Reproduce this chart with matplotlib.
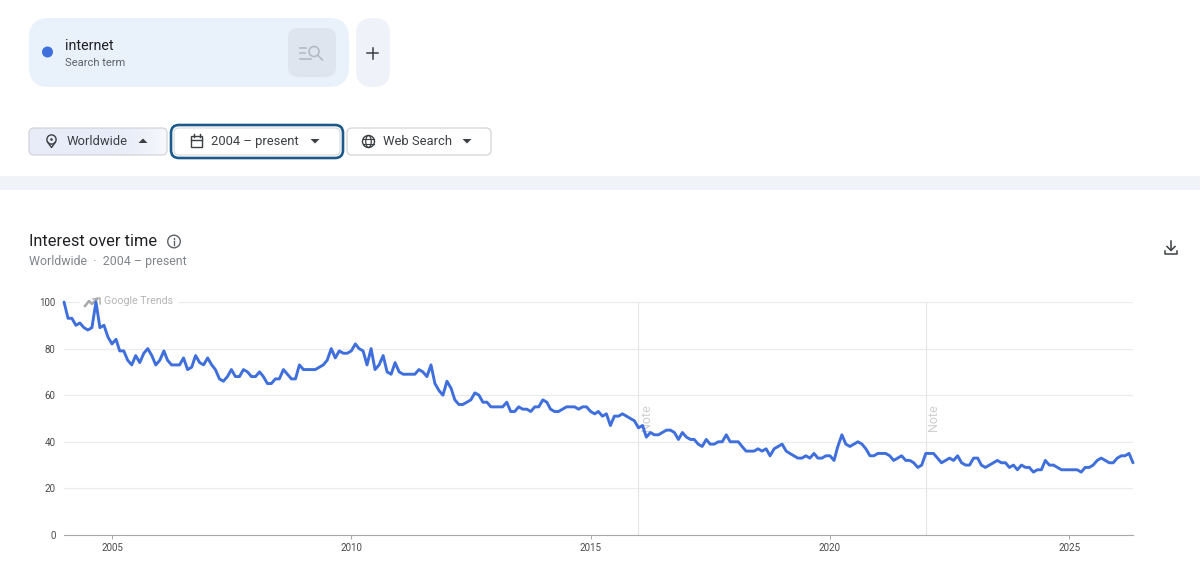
import matplotlib
matplotlib.use("Agg")
from matplotlib import pyplot as plt
from matplotlib.patches import FancyBboxPatch, Circle, Rectangle, Ellipse, Polygon
import matplotlib.dates as mdates
import numpy as np
import pandas as pd

plt.rcParams['font.family'] = ['Roboto', 'DejaVu Sans']

# monthly interest
v2004 = [100, 93, 93, 90, 91, 89, 88, 89, 100, 89, 90, 85]
v2005 = [82, 84, 79, 79, 75, 73, 77, 74, 78, 80, 77, 73]
v2006 = [75, 79, 75, 73, 73, 73, 76, 71, 72, 77, 74, 73]
v2007 = [76, 73, 71, 67, 66, 68, 71, 68, 68, 71, 70, 68]
v2008 = [68, 70, 68, 65, 65, 67, 67, 71, 69, 67, 67, 73]
v2009 = [71, 71, 71, 71, 72, 73, 75, 80, 76, 79, 78, 78]
v2010 = [79, 82, 80, 79, 73, 80, 71, 73, 77, 70, 69, 74]
v2011 = [70, 69, 69, 69, 69, 71, 70, 68, 73, 65, 62, 60]
v2012 = [66, 63, 58, 56, 56, 57, 58, 61, 60, 57, 57, 55]
v2013 = [55, 55, 55, 57, 53, 53, 55, 54, 54, 53, 55, 55]
v2014 = [58, 57, 54, 53, 53, 54, 55, 55, 55, 54, 55, 55]
v2015 = [53, 52, 53, 51, 52, 47, 51, 51, 52, 51, 50, 49]
v2016 = [46, 47, 42, 44, 43, 43, 44, 45, 45, 44, 41, 44]
v2017 = [42, 41, 41, 39, 38, 41, 39, 39, 40, 40, 43, 40]
v2018 = [40, 40, 38, 36, 36, 36, 37, 36, 37, 34, 37, 38]
v2019 = [39, 36, 35, 34, 33, 33, 34, 33, 35, 33, 33, 34]
v2020 = [34, 32, 38, 43, 39, 38, 39, 40, 39, 37, 34, 34]
v2021 = [35, 35, 35, 34, 32, 33, 34, 32, 32, 31, 29, 30]
v2022 = [35, 35, 35, 33, 31, 32, 33, 32, 34, 31, 30, 30]
v2023 = [33, 33, 30, 29, 30, 31, 32, 31, 31, 29, 30, 28]
v2024 = [30, 29, 29, 27, 28, 28, 32, 30, 30, 29, 28, 28]
v2025 = [28, 28, 28, 27, 29, 29, 30, 32, 33, 32, 31, 31]
v2026 = [33, 34, 34, 35, 31]

values = (v2004 + v2005 + v2006 + v2007 + v2008 + v2009 + v2010 + v2011 + v2012
          + v2013 + v2014 + v2015 + v2016 + v2017 + v2018 + v2019 + v2020
          + v2021 + v2022 + v2023 + v2024 + v2025 + v2026)
dates = pd.date_range('2004-01-01', periods=len(values), freq='MS')

y_ticks = [0, 20, 40, 60, 80, 100]
year_ticks = [2005, 2010, 2015, 2020, 2025]
note_dates = ['2016-01-01', '2022-01-01']

BLUE = '#3f6fdc'
W, H = 1200, 581
fig = plt.figure(figsize=(W / 100, H / 100), dpi=100, facecolor='white')

# page furniture, in pixel coordinates
ui = fig.add_axes([0, 0, 1, 1], zorder=-1)
ui.set_xlim(0, W)
ui.set_ylim(H, 0)
ui.axis('off')

# chart
ax = fig.add_axes([64 / W, 1 - 535 / H, (1133 - 64) / W, 233 / H])
ax.patch.set_visible(False)
ax.plot(dates, values, color=BLUE, lw=2.1, solid_joinstyle='round', solid_capstyle='round',
        clip_on=False, zorder=4)
ax.set_xlim(dates[0], dates[-1])
ax.set_ylim(0, 100)
ax.set_yticks(y_ticks)
ax.set_xticks([pd.Timestamp(f'{y}-01-01') for y in year_ticks])
ax.xaxis.set_major_formatter(mdates.DateFormatter('%Y'))
ax.grid(axis='y', color='#ebebeb', lw=0.8)
ax.set_axisbelow(True)
for n in note_dates:
    ax.axvline(pd.Timestamp(n), color='#e4e4e4', lw=0.8, zorder=1)
    ax.text(pd.Timestamp(n) + pd.Timedelta(days=62), 44.5, 'Note', rotation=90, ha='center',
            va='bottom', fontsize=9, color='#cfcfcf', zorder=3)
for s in ['top', 'right', 'left']:
    ax.spines[s].set_visible(False)
ax.spines['bottom'].set_color('#a8a8a8')
ax.spines['bottom'].set_linewidth(0.8)
ax.tick_params(axis='y', length=0, pad=6, labelsize=7, labelcolor='#4a4a4a')
ax.tick_params(axis='x', length=3, width=0.7, color='#a8a8a8', pad=3, labelsize=7, labelcolor='#4a4a4a')

# Google Trends mark, over the 100 gridline and under the line
ax.add_patch(Rectangle((80, 295), 98, 13, fc='white', ec='none', zorder=2,
                       transform=ui.transData, clip_on=False))
ax.plot([85, 89, 92, 97], [306, 301, 304, 299], color='#a8a8a8', lw=1.8, zorder=3,
        transform=ui.transData, clip_on=False)
ax.plot([93, 100, 100], [299, 298, 304], color='#a8a8a8', lw=1.0, zorder=3,
        transform=ui.transData, clip_on=False)
ax.text(104, 301.5, 'Google Trends', fontsize=7.7, color='#b5b5b5', va='center', zorder=3,
        transform=ui.transData)


def box(x0, y0, x1, y1, r, fc, ec='none', lw=0):
    p = FancyBboxPatch((x0 + r, y0 + r), x1 - x0 - 2 * r, y1 - y0 - 2 * r,
                       boxstyle=f'round,pad={r},rounding_size={r}', fc=fc, ec=ec, lw=lw)
    ui.add_patch(p)
    return p


def caret(x, y, up=False):
    d = -1 if up else 1
    ui.add_patch(Polygon([(x - 4.5, y - 2 * d), (x + 4.5, y - 2 * d), (x, y + 2.5 * d)], fc='#3c4043', ec='none'))


box(29, 18, 349, 87, 20, '#e9f1fb')
box(288, 28, 336, 77, 10, '#dfe5ee')
box(356, 18, 390, 87, 16, '#eff3f9')
ui.add_patch(Circle((47.5, 52), 5.5, fc=BLUE, ec='none'))
ui.text(65, 46, 'internet', fontsize=10.3, color='#202124', va='center')
ui.text(65, 62.5, 'Search term', fontsize=8, color='#5f6368', va='center')
ui.plot([367, 378], [53, 53], color='#3c4043', lw=1.1)
ui.plot([372.5, 372.5], [47.5, 58.5], color='#3c4043', lw=1.1)
# compare-term icon
for yy, x1 in [(47.5, 306), (53, 305), (59, 311)]:
    ui.plot([300, x1], [yy, yy], color='#b4bac4', lw=1.2)
ui.add_patch(Circle((314, 51.5), 5, fc='none', ec='#b4bac4', lw=1.2))
ui.plot([318, 322.5], [55.5, 60], color='#b4bac4', lw=1.2)

# filter buttons
p = box(29, 128, 167, 155, 5, 'none', '#d2d4d8', 0.9)
im = ui.imshow(np.linspace(0, 1, 100)[None, :] ** 5, extent=(29, 167, 155, 128), aspect='auto',
               cmap=matplotlib.colors.LinearSegmentedColormap.from_list('b', ['#e8ecf8', '#f8f9fd']),
               zorder=0.5)
im.set_clip_path(p)
ui.set_xlim(0, W)
ui.set_ylim(H, 0)
box(171, 125, 343, 158, 8, 'white', '#1d5a8c', 1.9)
box(174, 128, 340, 155, 5, 'white', '#d8dadd', 0.8)
box(347, 128, 491, 155, 5, 'white', '#d2d4d8', 0.9)
ui.text(66.5, 141.5, 'Worldwide', fontsize=9.4, color='#3c4043', va='center')
ui.text(211, 141.5, '2004 – present', fontsize=9.4, color='#3c4043', va='center')
ui.text(383, 141.5, 'Web Search', fontsize=9.4, color='#3c4043', va='center')
caret(143, 141, up=True)
caret(315, 141)
caret(467, 141)
# pin
ui.add_patch(Circle((51.5, 139.5), 4.6, fc='none', ec='#3c4043', lw=1))
ui.add_patch(Circle((51.5, 139.5), 1.3, fc='#3c4043', ec='none'))
ui.plot([47.5, 51.5, 55.5], [142, 147.5, 142], color='#3c4043', lw=1)
# calendar
ui.add_patch(Rectangle((191, 136), 11, 11, fc='none', ec='#3c4043', lw=1))
ui.plot([191, 202], [139.5, 139.5], color='#3c4043', lw=1)
ui.plot([193.5, 193.5], [134, 137], color='#3c4043', lw=1)
ui.plot([199.5, 199.5], [134, 137], color='#3c4043', lw=1)
# globe
ui.add_patch(Circle((368.5, 141.5), 6, fc='none', ec='#3c4043', lw=1))
ui.add_patch(Ellipse((368.5, 141.5), 5.5, 12, fc='none', ec='#3c4043', lw=0.9))
ui.plot([363, 374], [139, 139], color='#3c4043', lw=0.8)
ui.plot([363, 374], [144, 144], color='#3c4043', lw=0.8)

# grey band
ui.add_patch(Rectangle((0, 176), W, 14, fc='#f0f4f8', ec='none'))

# heading
ui.text(29, 242, 'Interest over time', fontsize=11.8, color='#202124', va='center')
ui.text(29, 262, 'Worldwide  ·  2004 – present', fontsize=8.9, color='#80868b', va='center')
ui.add_patch(Circle((174, 241.5), 6.3, fc='none', ec='#5f6368', lw=1))
ui.plot([174, 174], [240.5, 245], color='#5f6368', lw=1)
ui.plot([174, 174], [237.5, 238.6], color='#5f6368', lw=1)
# download
ui.plot([1171, 1171], [241, 250], color='#3c4043', lw=1.1)
ui.plot([1167, 1171, 1175], [246.5, 250.5, 246.5], color='#3c4043', lw=1.1)
ui.plot([1165, 1165, 1177, 1177], [251, 254, 254, 251], color='#3c4043', lw=1.1)

fig.savefig('out.png', dpi=100)
plt.close(fig)
